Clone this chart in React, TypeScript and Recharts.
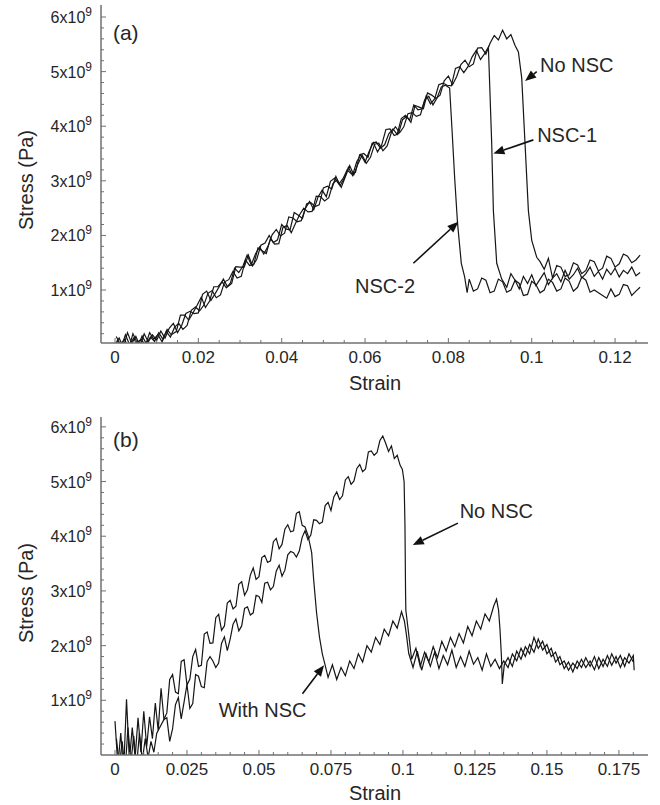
import { LineChart, Line, XAxis, YAxis, ReferenceLine, ReferenceDot } from 'recharts'

// stress in units of 1e9 Pa, as [strain, stress] samples

// ---- panel (a) ----
const aNoNsc: [number, number][] = [
  [0, 0], [0.001, 0.12], [0.002, -0.05], [0.003, 0.22], [0.004, 0.02], [0.005, 0.15], [0.006, -0.03],
  [0.007, 0.2], [0.008, 0.05], [0.009, 0.18], [0.01, 0.08], [0.011, 0.25], [0.012, 0.12], [0.013, 0.3],
  [0.014, 0.39], [0.015, 0.22], [0.016, 0.35], [0.017, 0.57], [0.018, 0.61], [0.019, 0.57], [0.02, 0.58],
  [0.021, 0.92], [0.022, 0.98], [0.023, 0.81], [0.024, 0.93], [0.025, 1.06], [0.026, 1.2], [0.027, 1.06],
  [0.028, 1.12], [0.029, 1.43], [0.03, 1.42], [0.031, 1.42], [0.032, 1.64], [0.033, 1.44], [0.034, 1.56],
  [0.035, 1.82], [0.036, 1.86], [0.037, 2.0], [0.038, 1.87], [0.039, 1.92], [0.04, 2.2], [0.041, 2.12],
  [0.042, 2.1], [0.043, 2.42], [0.044, 2.37], [0.045, 2.31], [0.046, 2.58], [0.047, 2.6], [0.048, 2.53],
  [0.049, 2.56], [0.05, 2.87], [0.051, 2.9], [0.052, 2.85], [0.053, 3.08], [0.054, 2.91], [0.055, 3.04],
  [0.056, 3.25], [0.057, 3.1], [0.058, 3.35], [0.059, 3.48], [0.06, 3.34], [0.061, 3.54], [0.062, 3.7],
  [0.063, 3.53], [0.064, 3.66], [0.065, 3.94], [0.066, 3.95], [0.067, 3.83], [0.068, 3.86], [0.069, 4.12],
  [0.07, 4.18], [0.071, 4.07], [0.072, 4.38], [0.073, 4.35], [0.074, 4.32], [0.075, 4.61], [0.076, 4.57],
  [0.077, 4.51], [0.078, 4.57], [0.079, 4.83], [0.08, 4.92], [0.081, 4.76], [0.082, 4.91], [0.083, 5.13],
  [0.084, 5.21], [0.085, 5.09], [0.086, 5.14], [0.087, 5.43], [0.088, 5.44], [0.089, 5.32], [0.09, 5.52],
  [0.091, 5.66], [0.092, 5.58], [0.093, 5.76], [0.094, 5.6], [0.095, 5.68], [0.096, 5.48], [0.0968, 5.36],
  [0.0976, 4.88], [0.0984, 3.67], [0.0992, 2.45], [0.1, 1.91], [0.1012, 1.6],
  [0.102, 1.52], [0.103, 1.38], [0.104, 1.58], [0.105, 1.22], [0.106, 1.45], [0.107, 1.42], [0.108, 1.25],
  [0.109, 1.28], [0.11, 1.5], [0.111, 1.46], [0.112, 1.3], [0.113, 1.36], [0.114, 1.55], [0.115, 1.52],
  [0.116, 1.35], [0.117, 1.4], [0.118, 1.62], [0.119, 1.58], [0.12, 1.42], [0.121, 1.48], [0.122, 1.66],
  [0.123, 1.62], [0.124, 1.5], [0.125, 1.55], [0.126, 1.64],
]

const aNsc1: [number, number][] = [
  [0.0005, 0.08], [0.0015, -0.05], [0.0025, 0.18], [0.0035, 0], [0.0045, 0.12], [0.0055, -0.04], [0.0065, 0.16],
  [0.0075, 0.02], [0.0085, 0.14], [0.0095, 0.06], [0.0105, 0.22], [0.0115, 0.1], [0.0125, 0.28], [0.0135, 0.18],
  [0.0147, 0.24], [0.0157, 0.54], [0.0167, 0.54], [0.0177, 0.45], [0.0187, 0.58], [0.0197, 0.72], [0.0207, 0.87],
  [0.0217, 0.68], [0.0227, 0.8], [0.0237, 1.06], [0.0247, 1.06], [0.0257, 1.15], [0.0267, 1.04], [0.0277, 1.13],
  [0.0287, 1.4], [0.0297, 1.32], [0.0307, 1.44], [0.0317, 1.64], [0.0327, 1.46], [0.0337, 1.66], [0.0347, 1.79],
  [0.0357, 1.66], [0.0367, 1.8], [0.0377, 2.01], [0.0387, 2.11], [0.0397, 1.99], [0.0407, 2.04], [0.0417, 2.34],
  [0.0427, 2.32], [0.0437, 2.25], [0.0447, 2.27], [0.0457, 2.5], [0.0467, 2.62], [0.0477, 2.47], [0.0487, 2.7],
  [0.0497, 2.83], [0.0507, 2.71], [0.0517, 2.99], [0.0527, 3.05], [0.0537, 2.94], [0.0547, 3.04], [0.0557, 3.2],
  [0.0567, 3.13], [0.0577, 3.15], [0.0587, 3.48], [0.0597, 3.5], [0.0607, 3.43], [0.0617, 3.69], [0.0627, 3.71],
  [0.0637, 3.6], [0.0647, 3.66], [0.0657, 3.86], [0.0667, 3.95], [0.0677, 3.85], [0.0687, 4.14], [0.0697, 4.2],
  [0.0707, 4.11], [0.0717, 4.39], [0.0727, 4.3], [0.0737, 4.32], [0.0747, 4.56], [0.0757, 4.41], [0.0767, 4.5],
  [0.0777, 4.76], [0.0787, 4.79], [0.0797, 4.75], [0.0807, 4.74], [0.0817, 5.06], [0.0827, 5.09], [0.0837, 4.98],
  [0.0847, 5.09], [0.0857, 5.27], [0.0867, 5.39], [0.0877, 5.22], [0.0887, 5.33], [0.0896, 5.45],
  [0.0904, 3.67], [0.0908, 2.45], [0.0916, 1.49], [0.0928, 1.2],
  [0.094, 1.05], [0.095, 1.3], [0.096, 1.18], [0.097, 1.02], [0.098, 1.25], [0.099, 1.12], [0.1, 1.28],
  [0.101, 1.08], [0.102, 1.2], [0.103, 1.32], [0.104, 1.1], [0.105, 1.22], [0.106, 1.3], [0.107, 1.15],
  [0.108, 1.36], [0.109, 1.2], [0.11, 1.28], [0.111, 1.4], [0.112, 1.22], [0.113, 1.3], [0.114, 1.42],
  [0.115, 1.25], [0.116, 1.34], [0.117, 1.2], [0.118, 1.38], [0.119, 1.28], [0.12, 1.4], [0.121, 1.24],
  [0.122, 1.36], [0.123, 1.3], [0.124, 1.42], [0.125, 1.26], [0.126, 1.32],
]

const aNsc2: [number, number][] = [
  [0.0003, 0.15], [0.0013, 0], [0.0023, 0.1], [0.0033, -0.08], [0.0043, 0.2], [0.0053, 0.04], [0.0063, 0.1],
  [0.0073, -0.02], [0.0083, 0.22], [0.0093, 0.1], [0.0103, 0.18], [0.0113, 0.05], [0.0123, 0.24], [0.0133, 0.14],
  [0.0143, 0.32], [0.0153, 0.39], [0.0163, 0.28], [0.0173, 0.35], [0.0183, 0.63], [0.0193, 0.69], [0.0203, 0.62],
  [0.0213, 0.72], [0.0223, 0.94], [0.0233, 0.99], [0.0243, 0.86], [0.0253, 0.91], [0.0263, 1.15], [0.0273, 1.19],
  [0.0283, 1.34], [0.0293, 1.22], [0.0303, 1.25], [0.0313, 1.55], [0.0323, 1.45], [0.0333, 1.47], [0.0343, 1.77],
  [0.0353, 1.72], [0.0363, 1.67], [0.0373, 1.94], [0.0383, 1.84], [0.0393, 1.85], [0.0403, 2.15], [0.0413, 2.18],
  [0.0423, 2.05], [0.0433, 2.22], [0.0443, 2.38], [0.0453, 2.5], [0.0463, 2.43], [0.0473, 2.44], [0.0483, 2.72],
  [0.0493, 2.71], [0.0503, 2.63], [0.0513, 2.69], [0.0523, 2.95], [0.0533, 3.02], [0.0543, 2.88], [0.0553, 3.08],
  [0.0563, 3.28], [0.0573, 3.11], [0.0583, 3.31], [0.0593, 3.47], [0.0603, 3.32], [0.0613, 3.43], [0.0623, 3.67],
  [0.0633, 3.69], [0.0643, 3.55], [0.0653, 3.64], [0.0663, 3.88], [0.0673, 3.99], [0.0683, 3.88], [0.0693, 3.99],
  [0.0703, 4.23], [0.0713, 4.25], [0.0723, 4.18], [0.0733, 4.21], [0.0743, 4.48], [0.0753, 4.55], [0.0763, 4.39],
  [0.0773, 4.52], [0.0783, 4.72], [0.0793, 4.75], [0.0803, 4.7],
  [0.0809, 3.9], [0.0815, 3.06], [0.0822, 2.22], [0.0831, 1.49], [0.0839, 1.24], [0.0845, 0.95],
  [0.085, 1.2], [0.086, 0.98], [0.087, 1.02], [0.088, 1.22], [0.089, 1.18], [0.09, 0.95], [0.091, 0.98],
  [0.092, 1.2], [0.093, 1.15], [0.094, 0.96], [0.095, 1.0], [0.096, 1.18], [0.097, 1.12], [0.098, 0.9],
  [0.099, 0.92], [0.1, 1.16], [0.101, 1.1], [0.102, 0.95], [0.103, 1.0], [0.104, 1.2], [0.105, 1.14],
  [0.106, 0.98], [0.107, 1.02], [0.108, 1.22], [0.109, 1.16], [0.11, 0.98], [0.111, 1.05], [0.112, 1.24],
  [0.113, 1.18], [0.114, 0.96], [0.115, 1.0], [0.116, 0.95], [0.117, 0.9], [0.118, 0.85], [0.119, 1.02],
  [0.12, 0.88], [0.121, 0.92], [0.122, 1.1], [0.123, 1.08], [0.124, 0.9], [0.125, 0.98], [0.126, 1.05],
]

// ---- panel (b) ----
const bWithNsc: [number, number][] = [
  [0, 0.62], [0.001, -0.2], [0.002, 0.4], [0.003, -0.3], [0.004, 1.02], [0.005, -0.1], [0.006, 0.5],
  [0.007, -0.05], [0.008, 0.68], [0.009, 0.05], [0.01, 0.8], [0.011, 0.15], [0.012, 0.7], [0.013, 0.3],
  [0.014, 0.95], [0.015, 0.45], [0.016, 1.22], [0.017, 0.65], [0.018, 0.77], [0.019, 1.38], [0.02, 1.47],
  [0.021, 1.15], [0.022, 1.12], [0.023, 1.71], [0.024, 1.74], [0.025, 1.28], [0.026, 1.39], [0.027, 1.8],
  [0.028, 1.93], [0.029, 1.62], [0.03, 1.64], [0.031, 2.21], [0.032, 2.25], [0.033, 2.04], [0.034, 2.05],
  [0.035, 2.51], [0.036, 2.57], [0.037, 2.28], [0.038, 2.36], [0.039, 2.78], [0.04, 2.83], [0.041, 2.67],
  [0.042, 2.72], [0.043, 3.12], [0.044, 3.17], [0.045, 2.92], [0.046, 3.02], [0.047, 3.29], [0.048, 3.42],
  [0.049, 3.21], [0.05, 3.26], [0.051, 3.61], [0.052, 3.65], [0.053, 3.52], [0.054, 3.55], [0.055, 3.9],
  [0.056, 3.96], [0.057, 3.77], [0.058, 3.85], [0.059, 4.13], [0.06, 4.21], [0.061, 4.08], [0.062, 4.1],
  [0.063, 4.42], [0.064, 4.45], [0.065, 4.2], [0.066, 4.17], [0.067, 4.02], [0.0677, 3.85], [0.0683, 3.7],
  [0.069, 3.2], [0.07, 2.6], [0.071, 2.16], [0.072, 1.85], [0.0728, 1.68], [0.074, 1.42], [0.0755, 1.65],
  [0.077, 1.38], [0.0785, 1.6], [0.08, 1.45], [0.0815, 1.72], [0.083, 1.58], [0.0845, 1.85], [0.086, 1.7],
  [0.0875, 2.0], [0.089, 1.88], [0.0905, 2.15], [0.092, 2.02], [0.0935, 2.3], [0.095, 2.18], [0.0965, 2.45],
  [0.098, 2.32], [0.0995, 2.62], [0.1005, 2.45], [0.1012, 2.2], [0.102, 1.86], [0.1035, 1.6], [0.105, 1.9],
  [0.1065, 1.55], [0.108, 1.85], [0.1095, 1.62], [0.111, 1.88], [0.1125, 1.58], [0.114, 1.82], [0.1155, 1.65],
  [0.117, 1.92], [0.1185, 1.6], [0.12, 1.8], [0.1215, 1.62], [0.123, 1.9], [0.1245, 1.66], [0.126, 1.78],
  [0.1275, 1.55], [0.129, 1.85], [0.1305, 1.62], [0.132, 1.75], [0.1335, 1.58], [0.135, 1.72], [0.1365, 1.6],
  [0.138, 1.85], [0.1395, 1.72], [0.141, 1.95], [0.1425, 1.8], [0.144, 2.02], [0.1455, 1.88], [0.147, 2.12],
  [0.1485, 1.92], [0.15, 2.02], [0.1515, 1.8], [0.153, 1.88], [0.1545, 1.65], [0.156, 1.72], [0.1575, 1.55],
  [0.159, 1.68], [0.1605, 1.58], [0.162, 1.75], [0.1635, 1.6], [0.165, 1.72], [0.1665, 1.56], [0.168, 1.78],
  [0.1695, 1.62], [0.171, 1.82], [0.1725, 1.64], [0.174, 1.8], [0.1755, 1.6], [0.177, 1.78], [0.1785, 1.68],
  [0.18, 1.82], [0.1803, 1.55],
]

const bNoNsc: [number, number][] = [
  [0.0005, 0.3], [0.0015, -0.2], [0.0025, 0.25], [0.0035, -0.3], [0.0045, 0.5], [0.0055, -0.15], [0.0065, 0.35],
  [0.0075, -0.2], [0.0085, 0.4], [0.0095, -0.1], [0.0105, 0.3], [0.0115, -0.05], [0.0125, 0.25], [0.0135, 0.05],
  [0.0145, 0.4], [0.017, 0.65], [0.018, 0.68], [0.019, 0.25], [0.02, 0.48], [0.021, 0.92], [0.022, 1.05],
  [0.023, 0.66], [0.024, 0.97], [0.025, 1.29], [0.026, 0.85], [0.027, 0.94], [0.028, 1.47], [0.029, 1.44],
  [0.03, 1.25], [0.031, 1.23], [0.032, 1.71], [0.033, 1.8], [0.034, 1.72], [0.035, 1.6], [0.036, 1.68],
  [0.037, 2.04], [0.038, 2.16], [0.039, 1.91], [0.04, 2.12], [0.041, 2.39], [0.042, 2.49], [0.043, 2.27],
  [0.044, 2.36], [0.045, 2.68], [0.046, 2.71], [0.047, 2.56], [0.048, 2.6], [0.049, 2.92], [0.05, 2.9],
  [0.051, 2.79], [0.052, 3.14], [0.053, 3.16], [0.054, 3.02], [0.055, 3.08], [0.056, 3.36], [0.057, 3.47],
  [0.058, 3.27], [0.059, 3.38], [0.06, 3.66], [0.061, 3.72], [0.062, 3.7], [0.063, 3.62], [0.064, 3.73],
  [0.065, 3.98], [0.066, 4.1], [0.067, 3.94], [0.068, 4.02], [0.069, 4.3], [0.07, 4.29], [0.071, 4.23],
  [0.072, 4.26], [0.073, 4.56], [0.074, 4.62], [0.075, 4.47], [0.076, 4.72], [0.077, 4.81], [0.078, 4.67],
  [0.079, 4.74], [0.08, 5.03], [0.081, 5.09], [0.082, 4.95], [0.083, 5.01], [0.084, 5.24], [0.085, 5.31],
  [0.086, 5.18], [0.087, 5.23], [0.088, 5.54], [0.089, 5.56], [0.09, 5.48], [0.091, 5.53], [0.092, 5.75],
  [0.093, 5.83], [0.094, 5.7], [0.095, 5.55], [0.096, 5.65], [0.097, 5.42], [0.098, 5.48], [0.099, 5.3],
  [0.0998, 5.22], [0.1004, 5.0], [0.1007, 4.2], [0.1009, 3.0], [0.101, 2.65], [0.1018, 2.3],
  [0.103, 1.75], [0.1045, 1.95], [0.106, 1.62], [0.1075, 1.88], [0.109, 1.7], [0.1105, 1.98], [0.112, 1.78],
  [0.1135, 2.08], [0.115, 1.9], [0.1165, 2.15], [0.118, 1.98], [0.1195, 2.22], [0.121, 2.05], [0.1225, 2.35],
  [0.124, 2.18], [0.1255, 2.45], [0.127, 2.3], [0.1285, 2.58], [0.13, 2.45], [0.1315, 2.72], [0.1325, 2.85],
  [0.1332, 2.65], [0.1337, 2.3], [0.1342, 1.8], [0.1345, 1.3], [0.1352, 1.65], [0.1365, 1.78], [0.138, 1.62],
  [0.1395, 1.9], [0.141, 1.75], [0.1425, 1.98], [0.144, 1.85], [0.1455, 2.15], [0.147, 1.95], [0.1485, 2.08],
  [0.15, 1.85], [0.1515, 1.95], [0.153, 1.7], [0.1545, 1.8], [0.156, 1.58], [0.1575, 1.7], [0.159, 1.52],
  [0.1605, 1.72], [0.162, 1.6], [0.1635, 1.78], [0.165, 1.62], [0.1665, 1.8], [0.168, 1.58], [0.1695, 1.75],
  [0.171, 1.62], [0.1725, 1.85], [0.174, 1.68], [0.1755, 1.82], [0.177, 1.62], [0.1785, 1.85], [0.18, 1.7],
]

// axis ticks
const aXTicks = [0, 0.02, 0.04, 0.06, 0.08, 0.1, 0.12]
const aXLabels = ['0', '0.02', '0.04', '0.06', '0.08', '0.1', '0.12']
const bXTicks = [0, 0.025, 0.05, 0.075, 0.1, 0.125, 0.15, 0.175]
const bXLabels = ['0', '0.025', '0.05', '0.075', '0.1', '0.125', '0.15', '0.175']
const yTicks = [1, 2, 3, 4, 5, 6]
const yMantissa = ['1', '2', '3', '4', '5', '6']

// annotations (data coordinates)
const aNotes = [
  { text: 'No NSC', x: 0.102, y: 4.99, tail: [0.1012, 5.0], tip: [0.0984, 4.83] },
  { text: 'NSC-1', x: 0.1013, y: 3.71, tail: [0.1004, 3.75], tip: [0.0908, 3.5] },
  { text: 'NSC-2', x: 0.0576, y: 0.946, tail: [0.0716, 1.49], tip: [0.0824, 2.25] },
]
const bNotes = [
  { text: 'No NSC', x: 0.1197, y: 4.33, tail: [0.1191, 4.24], tip: [0.1034, 3.84] },
  { text: 'With NSC', x: 0.036, y: 0.69, tail: [0.0651, 1.12], tip: [0.0726, 1.64] },
]

const FONT = '"Liberation Sans", Arial, Helvetica, sans-serif'
const AXIS = '#707070'
const INK = '#161616'
const TEXT = '#262626'

const toPoints = (pairs: [number, number][]) => pairs.map(([strain, stress]) => ({ strain, stress }))

const steps = (from: number, to: number, step: number) => {
  const out: number[] = []
  for (let v = from; v <= to + 1e-9; v += step) out.push(+v.toFixed(4))
  return out
}

const majorIndex = (v: number, majors: number[]) => majors.findIndex((m) => Math.abs(m - v) < 1e-7)

const bottomTick = (majors: number[], labels: string[]) => (props: any) => {
  const { x, y, payload } = props
  const i = majorIndex(payload.value, majors)
  return (
    <g>
      <line x1={x} x2={x} y1={y} y2={y - (i >= 0 ? 5 : 3)} stroke={AXIS} />
      {i >= 0 && (
        <text x={x} y={y + 20} textAnchor="middle" fontSize={17} fontFamily={FONT} fill={TEXT}>
          {labels[i]}
        </text>
      )}
    </g>
  )
}

const topTick = (props: any) => (
  <line x1={props.x} x2={props.x} y1={props.y} y2={props.y + 3} stroke={AXIS} />
)

const leftTick = (props: any) => {
  const { x, y, payload } = props
  const i = majorIndex(payload.value, yTicks)
  return (
    <g>
      <line x1={x} x2={x + (i >= 0 ? 5 : 3)} y1={y} y2={y} stroke={AXIS} />
      {i >= 0 && (
        <text x={x - 9} y={y + 6} textAnchor="end" fontSize={16} fontFamily={FONT} fill={TEXT}>
          <tspan>{yMantissa[i]}x10</tspan>
          <tspan dy={-7} fontSize={12}>9</tspan>
        </text>
      )}
    </g>
  )
}

const rightTick = (props: any) => (
  <line x1={props.x} x2={props.x - 2.5} y1={props.y} y2={props.y} stroke={AXIS} />
)

const Arrow = (props: any) => {
  const { x1, y1, x2, y2 } = props
  const dx = x2 - x1
  const dy = y2 - y1
  const len = Math.hypot(dx, dy) || 1
  const ux = dx / len
  const uy = dy / len
  const bx = x2 - ux * 11
  const by = y2 - uy * 11
  return (
    <g>
      <line x1={x1} y1={y1} x2={bx} y2={by} stroke="#111" strokeWidth={1.6} />
      <polygon
        points={`${x2},${y2} ${bx - uy * 4.5},${by + ux * 4.5} ${bx + uy * 4.5},${by - ux * 4.5}`}
        fill="#111"
      />
    </g>
  )
}

const noteText = (text: string, size: number) => (props: any) => (
  <text x={props.cx} y={props.cy} fontSize={size} fontFamily={FONT} fill={TEXT}>
    {text}
  </text>
)

interface PanelProps {
  series: [number, number][][]
  xDomain: [number, number]
  yDomain: [number, number]
  xTicks: number[]
  xLabels: string[]
  notes: typeof aNotes
  tag: string
  tagPos: [number, number]
  marginTop: number
  xAxisHeight: number
  strainY: number
  stressY: number
}

function Panel(p: PanelProps) {
  const xMinor = steps(0, p.xTicks[p.xTicks.length - 1] + 0.005, 0.005).filter((v) => v <= p.xDomain[1])
  const yMinor = steps(0.2, 6, 0.2)
  return (
    <LineChart width={660} height={400} margin={{ top: p.marginTop, right: 12, bottom: 0, left: 0 }}>
      <XAxis
        dataKey="strain"
        type="number"
        domain={p.xDomain}
        allowDataOverflow
        ticks={xMinor}
        interval={0}
        height={p.xAxisHeight}
        tickSize={0}
        tickMargin={0}
        tickLine={false}
        axisLine={{ stroke: AXIS, strokeWidth: 1.5 }}
        tick={bottomTick(p.xTicks, p.xLabels)}
        label={() => (
          <text x={375} y={p.strainY} textAnchor="middle" fontSize={20} fontFamily={FONT} fill={TEXT}>
            Strain
          </text>
        )}
      />
      <XAxis
        xAxisId="top"
        orientation="top"
        dataKey="strain"
        type="number"
        domain={p.xDomain}
        allowDataOverflow
        ticks={xMinor}
        interval={0}
        height={0}
        tickSize={0}
        tickMargin={0}
        tickLine={false}
        axisLine={{ stroke: AXIS, strokeWidth: 1.5 }}
        tick={topTick}
      />
      <YAxis
        type="number"
        domain={p.yDomain}
        allowDataOverflow
        ticks={yMinor}
        interval={0}
        width={101}
        tickSize={0}
        tickMargin={0}
        tickLine={false}
        axisLine={{ stroke: AXIS, strokeWidth: 1.5 }}
        tick={leftTick}
        label={() => (
          <text
            x={33}
            y={p.stressY}
            transform={`rotate(-90 33 ${p.stressY})`}
            textAnchor="middle"
            fontSize={20}
            fontFamily={FONT}
            fill={TEXT}
          >
            Stress (Pa)
          </text>
        )}
      />
      <YAxis
        yAxisId="right"
        orientation="right"
        type="number"
        domain={p.yDomain}
        allowDataOverflow
        ticks={yMinor}
        interval={0}
        width={0}
        tickSize={0}
        tickMargin={0}
        tickLine={false}
        axisLine={false}
        tick={rightTick}
      />
      {p.series.map((s, i) => (
        <Line
          key={i}
          data={toPoints(s)}
          dataKey="stress"
          type="linear"
          stroke={INK}
          strokeWidth={1.2}
          dot={false}
          activeDot={false}
          isAnimationActive={false}
        />
      ))}
      {p.notes.map((n) => (
        <ReferenceLine
          key={'arrow-' + n.text}
          segment={[
            { x: n.tail[0], y: n.tail[1] },
            { x: n.tip[0], y: n.tip[1] },
          ]}
          shape={Arrow}
        />
      ))}
      {p.notes.map((n) => (
        <ReferenceDot key={'note-' + n.text} x={n.x} y={n.y} r={1} shape={noteText(n.text, 20)} />
      ))}
      <ReferenceDot x={p.tagPos[0]} y={p.tagPos[1]} r={1} shape={noteText(p.tag, 21)} />
    </LineChart>
  )
}

export default function App() {
  return (
    <div style={{ position: 'absolute', left: 0, top: 0, width: 660, height: 805, background: '#fff' }}>
      <div style={{ position: 'absolute', left: 0, top: 0 }}>
        <Panel
          series={[aNoNsc, aNsc1, aNsc2]}
          xDomain={[-0.00336, 0.1279]}
          yDomain={[0.03, 6.22]}
          xTicks={aXTicks}
          xLabels={aXLabels}
          notes={aNotes}
          tag="(a)"
          tagPos={[-0.0005, 5.58]}
          marginTop={5}
          xAxisHeight={57}
          strainY={390}
          stressY={180}
        />
      </div>
      <div style={{ position: 'absolute', left: 0, top: 405 }}>
        <Panel
          series={[bWithNsc, bNoNsc]}
          xDomain={[-0.00486, 0.1851]}
          yDomain={[0, 6.18]}
          xTicks={bXTicks}
          xLabels={bXLabels}
          notes={bNotes}
          tag="(b)"
          tagPos={[-0.0007, 5.63]}
          marginTop={12}
          xAxisHeight={50}
          strainY={395}
          stressY={188}
        />
      </div>
    </div>
  )
}
